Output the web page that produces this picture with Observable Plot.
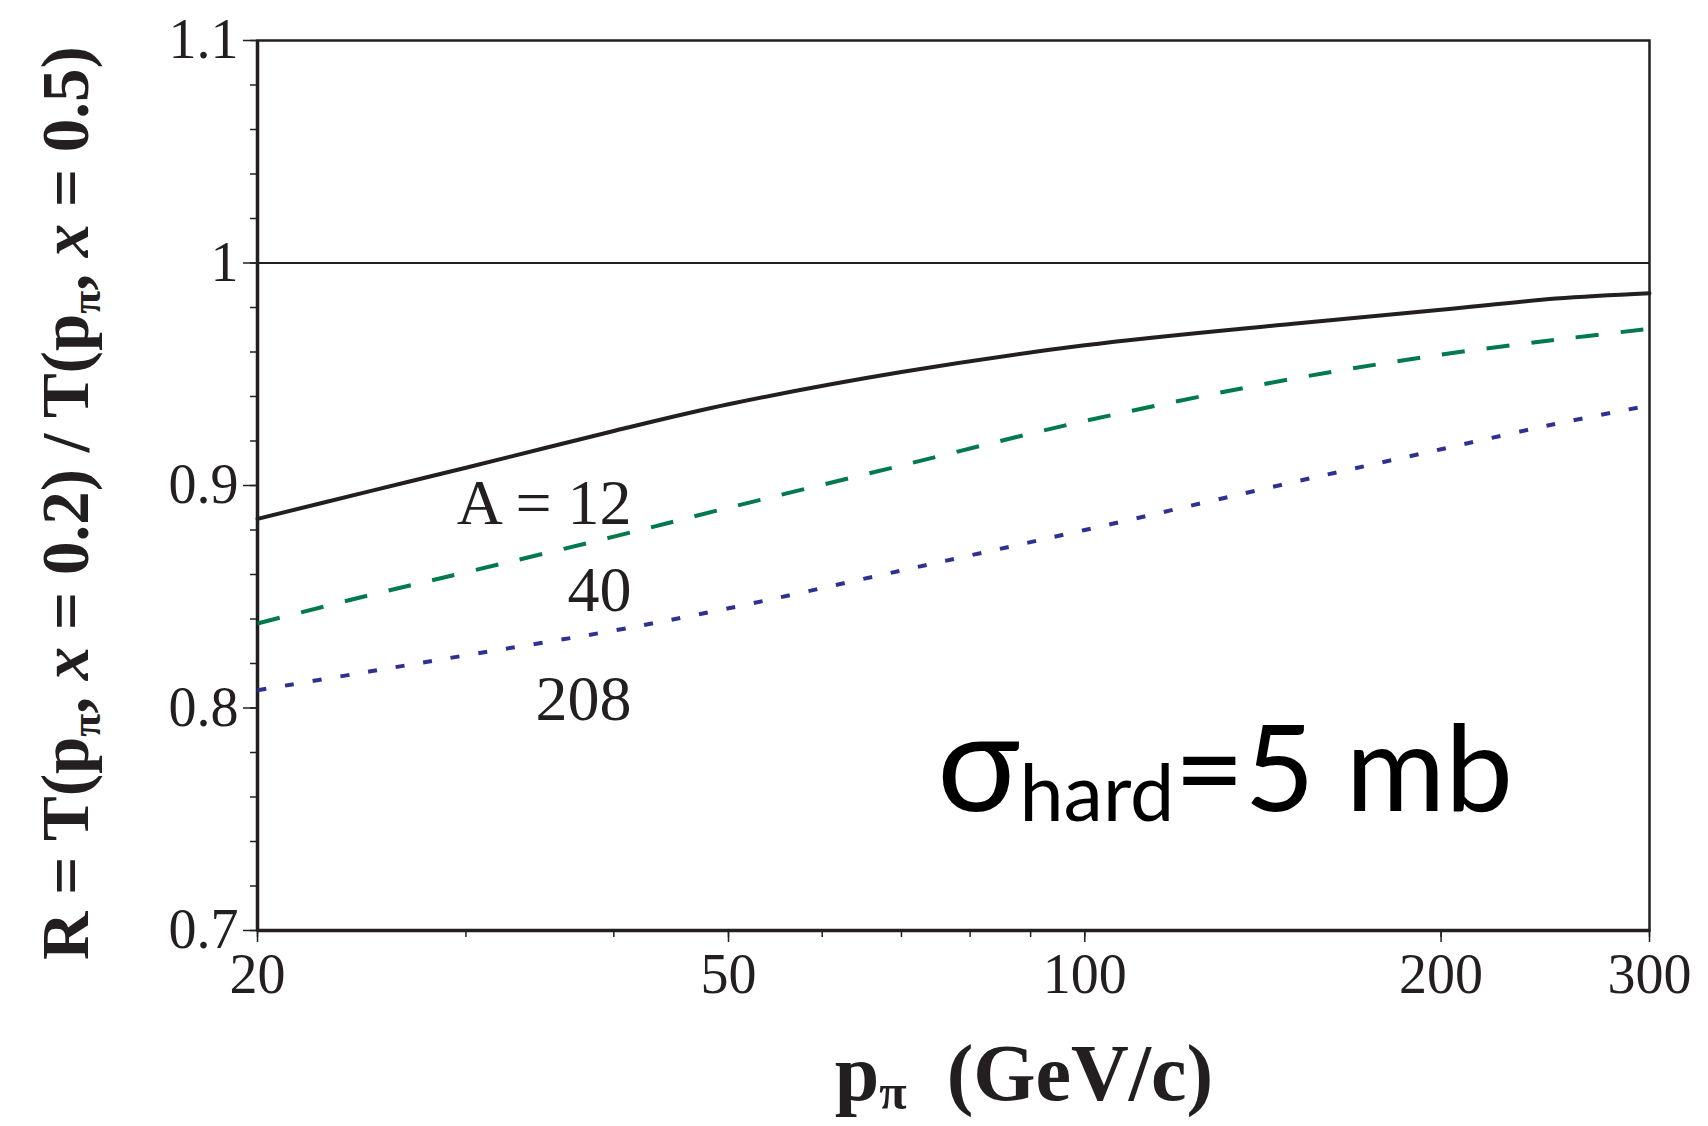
<!DOCTYPE html>
<html>
<head>
<meta charset="utf-8">
<script src="https://cdn.jsdelivr.net/npm/d3@7"></script>
<script src="https://cdn.jsdelivr.net/npm/@observablehq/plot@0.6"></script>
<style>
  html, body { margin: 0; padding: 0; background: #fff; }
  #chart svg { display: block; }
</style>
</head>
<body>
<div id="chart"></div>
<script>
// ---- data ----
const momenta = [20, 25, 30, 40, 50, 70, 100, 150, 200, 250, 300];
const ratioA12 = [0.885, 0.8977, 0.908, 0.9245, 0.9365, 0.951, 0.963, 0.9727, 0.979, 0.984, 0.9864];
const ratioA40 = [0.838, 0.851, 0.861, 0.877, 0.890, 0.909, 0.929, 0.948, 0.9588, 0.9655, 0.9704];
const ratioA208 = [0.808, 0.8166, 0.8237, 0.8348, 0.8448, 0.8618, 0.880, 0.9015, 0.9163, 0.9277, 0.936];

const seriesNames = ["A = 12", "40", "208"];
const labelP = [41.4, 41.4, 41.4];
const labelR = [0.8829, 0.8438, 0.7948];

const xTickValues = [20, 50, 100, 200, 300];
const xMinorTicks = [20, 30, 40, 50, 60, 70, 80, 90, 100, 200, 300];
const yTickValues = [0.7, 0.8, 0.9, 1.0, 1.1];
const yTickLabels = ["0.7", "0.8", "0.9", "1", "1.1"];
const yMinorTicks = d3.range(0, 21).map(i => +(0.7 + i * 0.02).toFixed(2));

const ink = "#231f20";
const rows = (vals) => momenta.map((p, i) => ({p, r: vals[i]}));
const labels = seriesNames.map((s, i) => ({s, p: labelP[i], r: labelR[i]}));

const chart = Plot.plot({
  width: 1708,
  height: 1126,
  marginLeft: 257,
  marginRight: 59,
  marginTop: 40,
  marginBottom: 196,
  x: {type: "log", domain: [20, 300]},
  y: {domain: [0.7, 1.1]},
  style: {fontFamily: "'Liberation Serif', 'Times New Roman', serif", fontSize: "55px", color: ink, background: "#fff"},
  marks: [
    Plot.frame({stroke: ink, strokeWidth: 2.5}),
    Plot.ruleX([20], {stroke: ink, strokeWidth: 3.5}),
    Plot.ruleY([0.7], {stroke: ink, strokeWidth: 3.5}),
    Plot.ruleY([1], {stroke: ink, strokeWidth: 2}),
    Plot.axisX({ticks: xMinorTicks, tickSize: 7, tickFormat: () => "", label: null, strokeWidth: 1.5}),
    Plot.axisX({ticks: xTickValues, tickSize: 12, tickPadding: 11, tickFormat: d => String(d), label: null, fontSize: 56, strokeWidth: 1.5}),
    Plot.axisY({ticks: yMinorTicks, tickSize: 7, tickFormat: () => "", label: null, strokeWidth: 1.5}),
    Plot.axisY({ticks: yTickValues, tickSize: 14, tickPadding: 5, tickFormat: d => yTickLabels[yTickValues.indexOf(d)], label: null, fontSize: 56, strokeWidth: 1.5}),
    Plot.line(rows(ratioA12), {x: "p", y: "r", stroke: ink, strokeWidth: 4, curve: "catmull-rom"}),
    Plot.line(rows(ratioA40), {x: "p", y: "r", stroke: "#007a4c", strokeWidth: 4, strokeDasharray: "23 22", strokeLinecap: "butt", curve: "catmull-rom"}),
    Plot.line(rows(ratioA208), {x: "p", y: "r", stroke: "#2e3192", strokeWidth: 4, strokeDasharray: "9 19", strokeLinecap: "butt", curve: "catmull-rom"}),
    Plot.text(labels, {x: "p", y: "r", text: "s", textAnchor: "end", lineAnchor: "bottom", fontSize: 64, fill: ink})
  ]
});

document.getElementById("chart").appendChild(chart);
const svg = d3.select(chart);

function richText(g, segs) {
  let shifted = 0;
  segs.forEach(seg => {
    const ts = g.append("tspan").text(seg.t);
    const target = seg.sub ? seg.sub : 0;
    if (target !== shifted) { ts.attr("dy", target - shifted); shifted = target; }
    if (seg.size) ts.attr("font-size", seg.size);
    if (seg.it) ts.attr("font-style", "italic");
    if (seg.dx) ts.attr("dx", seg.dx);
  });
}

// Y axis title
const yt = svg.append("text")
  .attr("transform", "translate(88,503) rotate(-90)")
  .attr("text-anchor", "middle")
  .attr("font-family", "'Liberation Serif', serif")
  .attr("font-weight", "bold")
  .attr("font-size", 67)
  .attr("fill", ink);
richText(yt, [
  {t: "R = T(p"}, {t: "π", sub: 12, size: 42}, {t: ", "}, {t: "x", it: true}, {t: " = 0.2) / T(p"},
  {t: "π", sub: 12, size: 42}, {t: ", "}, {t: "x", it: true}, {t: " = 0.5)"}
]);

// X axis title
const xt = svg.append("text")
  .attr("x", 1024).attr("y", 1100)
  .attr("text-anchor", "middle")
  .attr("font-family", "'Liberation Serif', serif")
  .attr("font-weight", "bold")
  .attr("font-size", 80)
  .attr("fill", ink);
richText(xt, [{t: "p"}, {t: "π", sub: 9, size: 50}, {t: "(GeV/c)", dx: 40}]);

// sigma annotation
const st = svg.append("text")
  .attr("x", 937).attr("y", 811)
  .attr("text-anchor", "start")
  .attr("font-family", "Lato, 'Open Sans', sans-serif")
  .attr("font-size", 121)
  .attr("fill", "#000");
richText(st, [{t: "σ", size: 138}, {t: "hard", sub: 10, size: 79}, {t: "=5 mb"}]);
</script>
</body>
</html>
